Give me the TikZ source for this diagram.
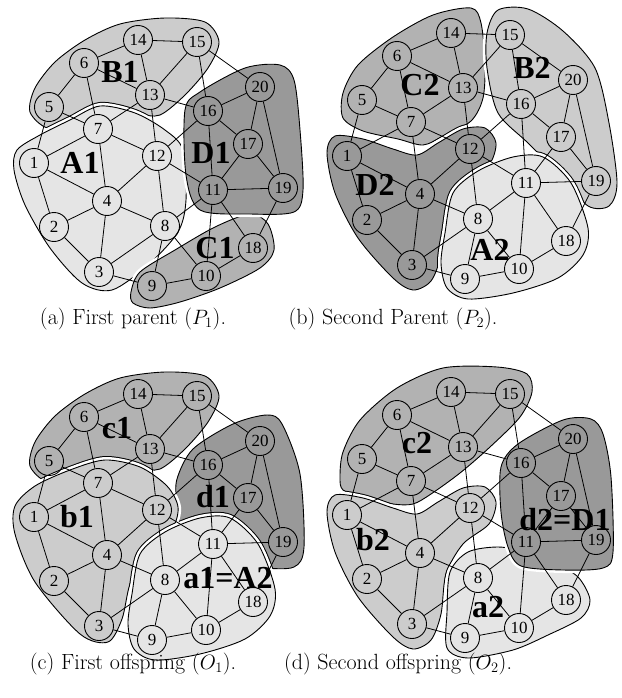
\documentclass[tikz,border=0pt]{standalone}
\usepackage{fontspec}
\newfontfamily\tms{Liberation Serif}
\definecolor{cA}{gray}{0.9}
\definecolor{cB}{gray}{0.8}
\definecolor{cC}{gray}{0.7}
\definecolor{cD}{gray}{0.6}
\tikzset{
  vtx/.style={circle, draw, line width=0.9pt, minimum size=29pt, inner sep=0pt, font=\tms\fontsize{17}{17}\selectfont},
  edge/.style={line width=0.8pt},
  lbl/.style={font=\tms\bfseries\fontsize{32}{32}\selectfont, inner sep=0pt},
  blob/.style={fill=#1, draw=black, line width=0.9pt, preaction={draw=white, line width=6pt}},
  halo/.style={draw=black, line width=8pt},
  captxt/.style={font=\fontsize{22}{26}\selectfont, anchor=base}
}
% blob outlines (base frame, y downwards)
\def\pBone{plot[smooth cycle] coordinates {(30,112) (35,88) (55,62) (85,40) (120,24) (165,18) (205,22) (219,42) (208,68) (185,95) (160,115) (138,114) (110,110) (75,118) (48,128)}}
\def\pAone{plot[smooth cycle] coordinates {(17,150) (40,135) (70,120) (100,106) (135,113) (165,130) (183,150) (186,200) (178,232) (148,265) (112,290) (82,283) (50,248) (25,205) (14,170)}}
\def\pCone{plot[smooth cycle] coordinates {(131,292) (140,272) (175,250) (215,227) (250,214) (268,224) (274,250) (260,268) (220,288) (180,302) (150,308) (133,303)}}
\def\pDone{plot[smooth cycle] coordinates {(185,110) (200,92) (245,68) (280,65) (294,80) (300,130) (303,190) (294,212) (250,214) (200,210) (186,175)}}
\def\pCtwo{plot[smooth cycle] coordinates {(30,125) (30,100) (45,72) (80,44) (120,22) (158,15) (168,30) (172,70) (170,105) (158,128) (130,143) (110,152) (85,146) (50,138)}}
\def\pBtwo{plot[smooth cycle] coordinates {(174,40) (185,17) (215,16) (250,38) (282,75) (296,130) (304,190) (296,213) (275,213) (250,185) (215,150) (185,120) (174,75)}}
\def\pDtwo{plot[smooth cycle] coordinates {(14,160) (22,143) (50,146) (80,156) (104,162) (125,150) (150,136) (172,135) (183,150) (176,172) (150,192) (133,222) (128,262) (118,288) (100,297) (80,285) (45,245) (22,200)}}
\def\pAtwo{plot[smooth cycle] coordinates {(132,240) (140,200) (165,178) (200,164) (230,164) (258,190) (275,235) (270,262) (245,285) (200,300) (155,306) (134,295) (128,270)}}
\def\pbone{plot[smooth cycle] coordinates {(15,152) (35,132) (70,116) (105,106) (140,113) (167,132) (178,153) (172,175) (145,202) (130,230) (122,265) (108,288) (80,280) (35,228) (15,180)}}
\def\pdone{plot[smooth cycle] coordinates {(177,125) (193,95) (233,70) (267,61) (282,70) (300,120) (304,193) (294,213) (262,214) (220,210) (185,190) (177,150)}}
\def\pctwo{plot[smooth cycle] coordinates {(27,125) (30,100) (47,68) (84,36) (130,16) (184,15) (214,22) (219,40) (207,65) (177,95) (147,121) (118,142) (100,152) (80,152) (50,145) (30,138)}}
\def\patwo{plot[smooth cycle] coordinates {(134,260) (137,220) (155,200) (185,195) (215,200) (240,210) (265,225) (277,248) (268,266) (235,283) (200,298) (155,306) (134,296)}}
\def\pdtwo{plot[smooth cycle] coordinates {(188,115) (205,92) (250,68) (278,67) (290,82) (298,125) (300,200) (290,216) (250,218) (208,214) (195,195) (188,160)}}
\newcommand\gpanel[1]{%
  \foreach \n/\x/\y in {14/138/40, 15/197/42, 6/84/63, 13/150/95, 5/49/107, 16/208/111, 20/260/87, 7/98/129, 17/248/144, 12/157/156, 1/34/163, 11/213/190, 19/283/188, 4/107/201, 2/54/227, 8/165/226, 18/253/248, 3/99/272, 10/206/276, 9/152/286}
    {\node[vtx] (#1\n) at (\x,\y) {\n};}
  \foreach \u/\v in {14/15, 14/6, 14/13, 15/13, 15/16, 15/20, 6/5, 6/13, 6/7, 5/7, 5/1, 13/7, 13/16, 13/12, 16/20, 16/17, 16/11, 16/12, 20/17, 20/19, 7/1, 7/4, 7/12, 17/11, 17/19, 12/4, 12/8, 12/11, 1/4, 1/2, 11/19, 11/8, 11/18, 11/10, 19/18, 4/2, 4/8, 4/3, 2/3, 8/3, 8/9, 8/10, 18/10, 3/9, 9/10}
    {\draw[edge] (#1\u) -- (#1\v);}
}
\newcommand\overlap[2]{\begin{scope}\clip #1; \path[halo] #2; \end{scope}}
\begin{document}
\begin{tikzpicture}[x=1pt,y=-1pt]
\useasboundingbox (0,0) rectangle (621,698);
% (a)
\begin{scope}
  \path[blob=cB] \pBone;
  \overlap{\pBone}{\pAone}
  \path[blob=cA] \pAone;
  \path[blob=cC] \pCone;
  \path[blob=cD] \pDone;
  \gpanel{a}
  \node[lbl] (la1) at (80,163) {A1};
  \node[lbl] (lb1) at (120,72) {B1};
  \node[lbl] (ld1) at (211,153) {D1};
  \node[lbl] (lc1) at (215,248) {C1};
\end{scope}
% (b)
\begin{scope}[shift={(313,-7)}]
  \path[blob=cC] \pCtwo;
  \path[blob=cB] \pBtwo;
  \overlap{\pCtwo}{\pDtwo}
  \path[blob=cD] \pDtwo;
  \overlap{\pDtwo}{\pAtwo}
  \overlap{\pBtwo}{\pAtwo}
  \path[blob=cA] \pAtwo;
  \gpanel{b}
  \node[lbl] (lc2) at (107,92) {C2};
  \node[lbl] (lb2) at (219,75) {B2};
  \node[lbl] (ld2) at (62,192) {D2};
  \node[lbl] (la2) at (177,257) {A2};
\end{scope}
% (c)
\begin{scope}[shift={(0,354)}]
  \path[blob=cC] \pBone;
  \path[blob=cD] \pdone;
  \overlap{\pBone}{\pbone}
  \path[blob=cB] \pbone;
  \overlap{\pbone}{\pAtwo}
  \overlap{\pdone}{\pAtwo}
  \path[blob=cA] \pAtwo;
  \gpanel{c}
  \node[lbl] (lc3) at (117,74) {c1};
  \node[lbl] (lb3) at (77,163) {b1};
  \node[lbl] (ld3) at (213,143) {d1};
  \node[lbl] (la3) at (228,224) {a1=A2};
\end{scope}
% (d)
\begin{scope}[shift={(313,352)}]
  \path[blob=cC] \pctwo;
  \overlap{\pctwo}{\pDtwo}
  \path[blob=cB] \pDtwo;
  \overlap{\pDtwo}{\patwo}
  \path[blob=cA] \patwo;
  \path[blob=cD] \pdtwo;
  \gpanel{d}
  \node[lbl] (lc4) at (104,91) {c2};
  \node[lbl] (lb4) at (60,188) {b2};
  \node[lbl] (ld4) at (252,168) {d2=D1};
  \node[lbl] (la4) at (175,255) {a2};
\end{scope}
% captions
\node[captxt] (capa) at (133,324) {(a) First parent ($P_1$).};
\node[captxt] (capb) at (393,324) {(b) Second Parent ($P_2$).};
\node[captxt] (capc) at (133,669) {(c) First offspring ($O_1$).};
\node[captxt] (capd) at (398,669) {(d) Second offspring ($O_2$).};
\end{tikzpicture}
\end{document}
